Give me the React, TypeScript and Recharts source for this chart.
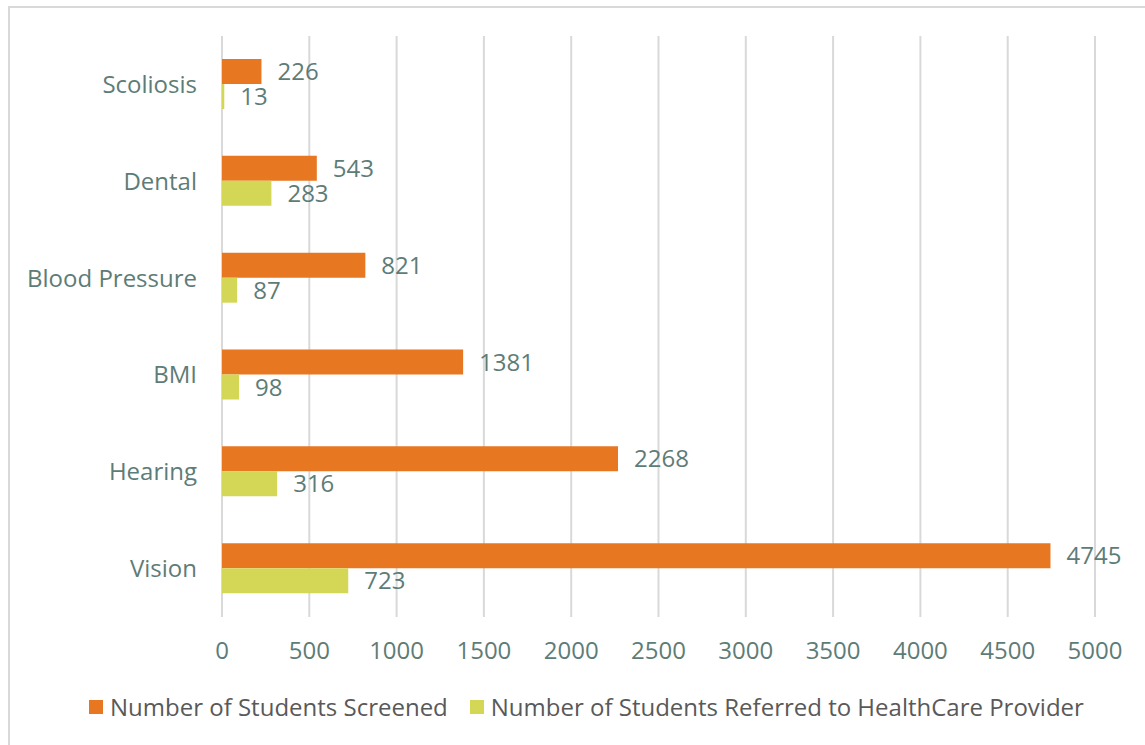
import React from 'react';
import { BarChart, Bar, XAxis, YAxis, CartesianGrid, LabelList, Legend } from 'recharts';

const categories = ['Scoliosis', 'Dental', 'Blood Pressure', 'BMI', 'Hearing', 'Vision'];
const screened = [226, 543, 821, 1381, 2268, 4745];
const referred = [13, 283, 87, 98, 316, 723];
const xTicks = [0, 500, 1000, 1500, 2000, 2500, 3000, 3500, 4000, 4500, 5000];
const seriesNames = ['Number of Students Screened', 'Number of Students Referred to HealthCare Provider'];
const colors = ['#E87722', '#D4D755'];

const data = categories.map((c, i) => ({ name: c, screened: screened[i], referred: referred[i] }));

const FONT = '"Open Sans", "Noto Sans", sans-serif';
const TEXT = '#5E7C77';

const LegendContent = () => (
  <div style={{ display: 'flex', alignItems: 'center', fontFamily: FONT, fontSize: 24, color: '#595959', whiteSpace: 'nowrap', lineHeight: '30px' }}>
    {seriesNames.map((n, i) => (
      <div key={n} style={{ display: 'flex', alignItems: 'center', marginRight: 22 }}>
        <span style={{ display: 'inline-block', width: 14, height: 14, background: colors[i], marginRight: 7 }} />
        <span>{n}</span>
      </div>
    ))}
  </div>
);

export default function App() {
  return (
    <div style={{ position: 'absolute', left: 0, top: 0, width: 1145, height: 745, overflow: 'hidden', background: '#fff' }}>
      <div style={{ position: 'absolute', left: 8, top: 6, width: 1200, height: 800, border: '2px solid #D9D9D9', boxSizing: 'border-box' }} />
      <div style={{ position: 'absolute', left: 0, top: 0 }}>
        <BarChart
          width={1145}
          height={745}
          data={data}
          layout="vertical"
          margin={{ top: 36, right: 50, bottom: 0, left: 0 }}
          barGap={0}
          barSize={25}
        >
          <CartesianGrid horizontal={false} vertical={true} stroke="#D9D9D9" strokeWidth={2} />
          <XAxis
            type="number"
            domain={[0, 5000]}
            ticks={xTicks}
            interval={0}
            axisLine={false}
            tickLine={false}
            tickSize={0}
            tickMargin={25}
            height={98}
            tick={{ fill: TEXT, fontSize: 24, fontFamily: FONT }}
          />
          <YAxis
            type="category"
            dataKey="name"
            width={222}
            axisLine={false}
            tickLine={false}
            tickSize={0}
            tickMargin={25}
            tick={{ fill: TEXT, fontSize: 24, fontFamily: FONT }}
          />
          <Legend
            content={<LegendContent />}
            wrapperStyle={{ position: 'absolute', left: 89, top: 692, width: 'auto' }}
          />
          <Bar dataKey="screened" name={seriesNames[0]} fill={colors[0]} isAnimationActive={false}>
            <LabelList dataKey="screened" position="right" offset={16} fill={TEXT} fontSize={24} fontFamily={FONT} />
          </Bar>
          <Bar dataKey="referred" name={seriesNames[1]} fill={colors[1]} isAnimationActive={false}>
            <LabelList dataKey="referred" position="right" offset={16} fill={TEXT} fontSize={24} fontFamily={FONT} />
          </Bar>
        </BarChart>
      </div>
    </div>
  );
}
